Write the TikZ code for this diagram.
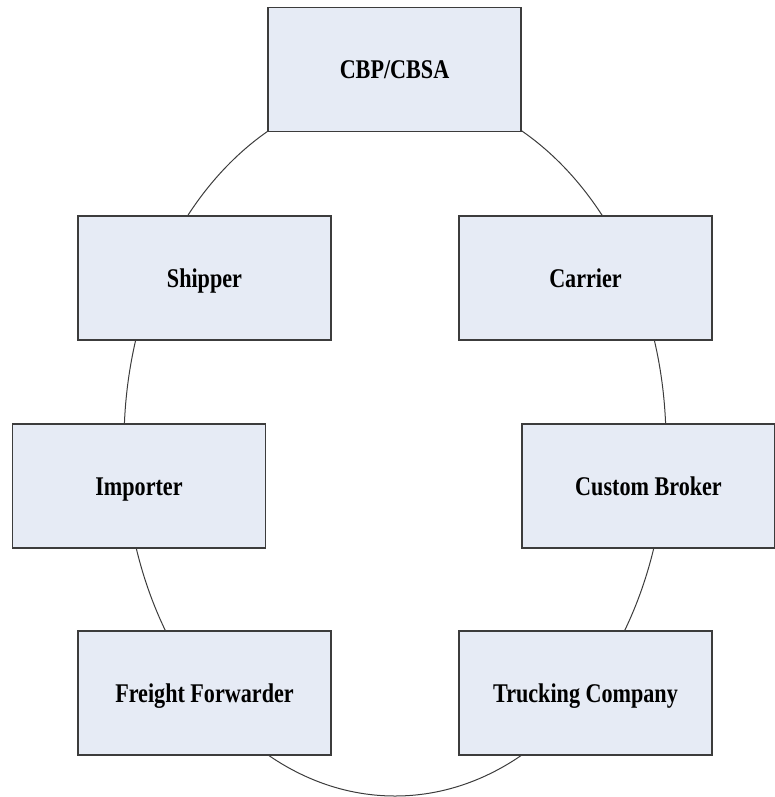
\documentclass[tikz,border=0pt]{standalone}
\usepackage{fontspec}
\setmainfont{Liberation Serif}[FakeStretch=0.82]
\usepackage{tikz}
\usetikzlibrary{calc}
\definecolor{boxfill}{RGB}{230,235,245}
\definecolor{boxline}{RGB}{60,60,60}

\begin{document}
\begin{tikzpicture}[x=1pt,y=-1pt,
  party/.style={draw=boxline, line width=1.3pt, fill=boxfill,
    minimum width=253pt, minimum height=124pt, inner sep=0pt,
    text height=18pt, text depth=0pt,
    font=\fontsize{27}{30}\selectfont\bfseries}]

%the frame
    \useasboundingbox (0,0) rectangle (774,797);
%the ring behind the boxes
    \coordinate (ring) at (395,443);
    \draw[boxline, line width=1pt] (ring) ellipse [x radius=271, y radius=353];
%the parties
    \node[party] (cbp) at (394.5,69.5) {CBP/CBSA};
    \node[party] (shipper) at (204.5,278) {Shipper};
    \node[party] (carrier) at (585.5,278) {Carrier};
    \node[party] (importer) at (139,486) {Importer};
    \node[party] (broker) at (648.5,486) {Custom Broker};
    \node[party] (forwarder) at (204.5,693) {Freight Forwarder};
    \node[party] (trucking) at (585.5,693) {Trucking Company};
\end{tikzpicture}
\end{document}
